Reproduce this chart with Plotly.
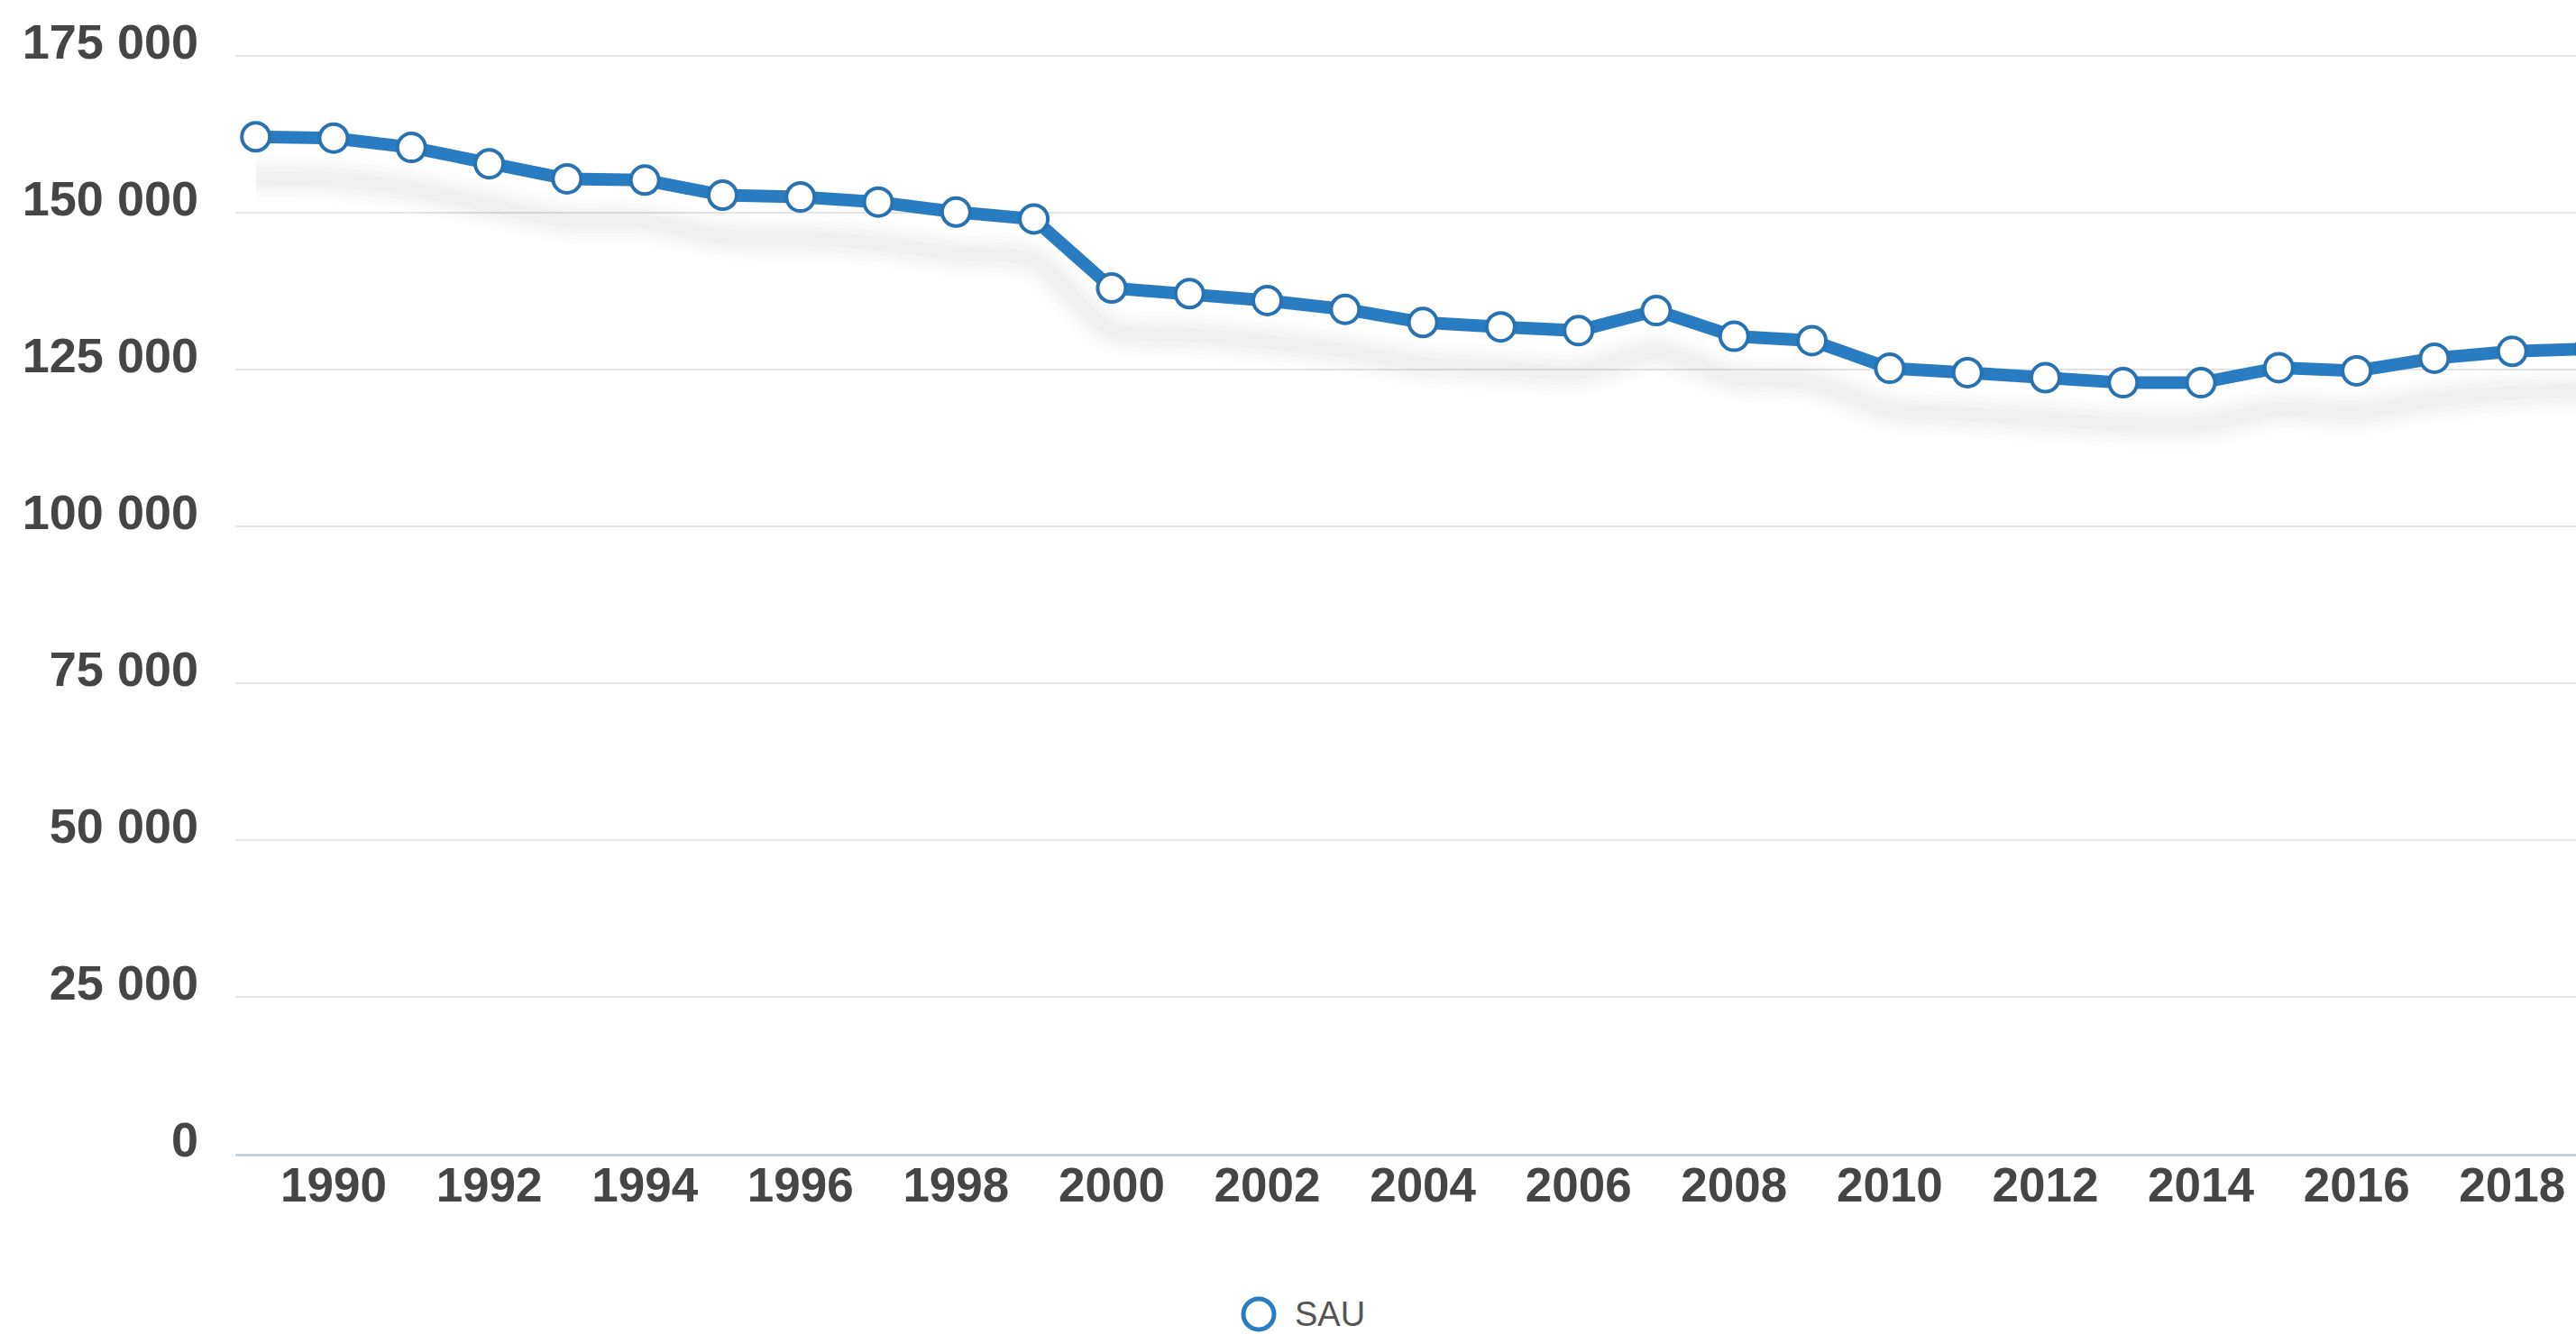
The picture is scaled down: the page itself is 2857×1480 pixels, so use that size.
import plotly.graph_objects as go

# SAU series, 1989-2019
years = list(range(1989, 2020))
sau = [
    162100, 161900, 160400, 157800, 155400, 155200, 152800, 152500,
    151700, 150100, 149000, 138000, 137100, 136000, 134600, 132500,
    131800, 131200, 134400, 130300, 129600, 125200, 124500, 123700,
    122900, 122900, 125300, 124800, 126800, 127900, 128300,
]
series_name = "SAU"

y_ticks = [0, 25000, 50000, 75000, 100000, 125000, 150000, 175000]
x_ticks = list(range(1990, 2019, 2))

W, H = 2857, 1480
M_L, M_R, M_T, M_B = 261, 0, 60, 200
plot_h = H - M_T - M_B
y_top = 175000
# leave a couple of pixels above the top gridline so it is drawn
y_max = y_top * plot_h / (plot_h - 2)

LINE = "#2a7cc0"
RING = "#2872b2"
LABEL = "#454545"
FONT = "Liberation Sans, Arial, sans-serif"

# soft drop shadow under the line, offset a few pixels downward
shadow_px = 46
shadow_dy = shadow_px / plot_h * y_max
shadow_y = [v - shadow_dy for v in sau]

fig = go.Figure()
for w, a in [(52, 0.010), (40, 0.012), (28, 0.015), (16, 0.018)]:
    fig.add_trace(go.Scatter(
        x=years, y=shadow_y, mode="lines",
        line=dict(color=f"rgba(0,0,0,{a})", width=w, shape="spline", smoothing=0.8),
        hoverinfo="skip", showlegend=False,
    ))

fig.add_trace(go.Scatter(
    x=years, y=sau, mode="lines+markers", name=series_name,
    line=dict(color=LINE, width=14),
    marker=dict(size=31, color="white", line=dict(color=RING, width=4)),
    showlegend=False,
))

# legend entry: hollow ring + series name, centred under the chart
leg_x = (1396 - M_L) / (W - M_L - M_R)
leg_y = (H - M_B - 1458) / plot_h
txt_x = (1434 - M_L) / (W - M_L - M_R)
fig.add_shape(
    type="circle", xref="paper", yref="paper",
    xsizemode="pixel", ysizemode="pixel",
    xanchor=leg_x, yanchor=leg_y,
    x0=-17, x1=17, y0=-17, y1=17,
    line=dict(color=LINE, width=5), fillcolor="white",
)
fig.add_annotation(
    x=txt_x, y=leg_y, xref="paper", yref="paper",
    xanchor="left", yanchor="middle", showarrow=False,
    text=series_name,
    font=dict(family=FONT, size=38, color="#555555"),
)

fig.update_layout(
    width=W, height=H,
    margin=dict(l=M_L, r=M_R, t=M_T, b=M_B, pad=0),
    paper_bgcolor="white", plot_bgcolor="white",
    separators=". ",
    showlegend=False,
    font=dict(family=FONT, color=LABEL),
)
fig.update_xaxes(
    range=[1988.737, 2018.82],
    tickvals=x_ticks, tickformat="d",
    showgrid=False, zeroline=False,
    showline=True, linecolor="#c9d2dd", linewidth=3,
    ticks="", ticklabelstandoff=-14,
    tickfont=dict(family=FONT, size=53, color=LABEL, weight="bold"),
)
fig.update_yaxes(
    range=[0, y_max],
    tickvals=y_ticks, tickformat=",d",
    showgrid=True, gridcolor="#e4e4e4", gridwidth=2,
    zeroline=False, showline=False, ticks="",
    ticklabelstandoff=40, ticklabelshift=-16,
    tickfont=dict(family=FONT, size=54, color=LABEL, weight="bold"),
)

fig.write_html("out.html")
